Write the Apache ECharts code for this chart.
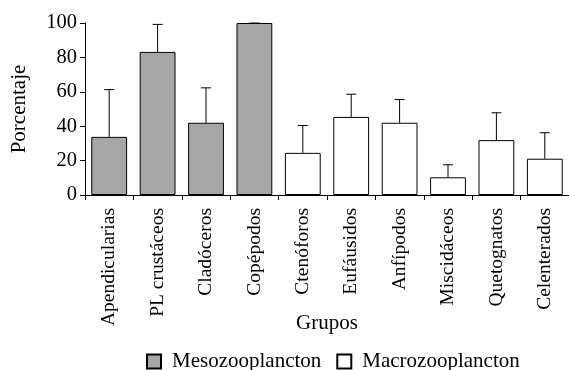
<!DOCTYPE html>
<html>
<head>
<meta charset="utf-8">
<script src="https://cdn.jsdelivr.net/npm/echarts@6/dist/echarts.min.js"></script>
<style>html,body{margin:0;padding:0;background:#fff;}#c{width:569px;height:370px;}</style>
</head>
<body>
<div id="c"></div>
<script>
var categories = ['Apendicularias','PL crustáceos','Cladóceros','Copépodos','Ctenóforos','Eufáusidos','Anfípodos','Miscidáceos','Quetognatos','Celenterados'];
var meso = [33.8, 83.2, 42, 100, null, null, null, null, null, null];
var macro = [null, null, null, null, 24.5, 45.4, 42, 10.3, 31.9, 21.1];
var upper = [61.3, 99.2, 62.3, 100, 40.4, 58.6, 55.5, 17.6, 47.8, 36.2];
var yTicks = [0, 20, 40, 60, 80, 100];

var FONT = '"Liberation Serif", "Times New Roman", serif';
var values = categories.map(function (c, i) { return meso[i] != null ? meso[i] : macro[i]; });
var errData = categories.map(function (c, i) { return [i, values[i], upper[i]]; });

var chart = echarts.init(document.getElementById('c'));
chart.setOption({
  animation: false,
  backgroundColor: '#fff',
  textStyle: { fontFamily: FONT, color: '#000' },
  grid: { left: 85, top: 23, right: -8, bottom: 175, containLabel: false },
  legend: {
    data: ['Mesozooplancton', 'Macrozooplancton'],
    left: 146, top: 351, padding: 0,
    itemWidth: 14, itemHeight: 14, itemGap: 15,
    icon: 'rect',
    textStyle: { fontFamily: FONT, fontSize: 21, color: '#000', padding: [0, 0, 0, 6] }
  },
  xAxis: {
    type: 'category',
    data: categories,
    name: 'Grupos', nameLocation: 'middle', nameGap: 118, nameMoveOverlap: false,
    nameTextStyle: { fontFamily: FONT, fontSize: 21, color: '#000', verticalAlign: 'top' },
    axisLine: { lineStyle: { color: '#000', width: 1 } },
    axisTick: { show: true, length: 5, lineStyle: { color: '#000' } },
    axisLabel: { rotate: 90, margin: 13, fontFamily: FONT, fontSize: 19.5, color: '#000', interval: 0 }
  },
  yAxis: {
    type: 'value', min: 0, max: 100, interval: 20,
    name: 'Porcentaje', nameLocation: 'middle', nameGap: 55, nameRotate: 90,
    nameTextStyle: { fontFamily: FONT, fontSize: 21, color: '#000' },
    axisLine: { show: true, lineStyle: { color: '#000', width: 1 } },
    axisTick: { show: true, length: 5, lineStyle: { color: '#000' } },
    splitLine: { show: false },
    axisLabel: {
      margin: 8, fontFamily: FONT, fontSize: 20.5, color: '#000',
      formatter: function (v) { return yTicks.indexOf(v) >= 0 ? String(v) : ''; }
    }
  },
  series: [
    {
      name: 'Mesozooplancton', type: 'bar', data: meso, barWidth: '74%', barGap: '-100%',
      itemStyle: { color: '#a6a6a6', borderColor: '#000', borderWidth: 1 }
    },
    {
      name: 'Macrozooplancton', type: 'bar', data: macro, barWidth: '74%', barGap: '-100%',
      itemStyle: { color: '#ffffff', borderColor: '#000', borderWidth: 1 }
    },
    {
      name: 'err', type: 'custom', data: errData, z: 10,
      renderItem: function (params, api) {
        var x = api.value(0);
        var base = api.coord([x, api.value(1)]);
        var top = api.coord([x, api.value(2)]);
        var hw = 5;
        var st = { stroke: '#000', lineWidth: 1 };
        return {
          type: 'group',
          children: [
            { type: 'line', shape: { x1: base[0], y1: base[1], x2: top[0], y2: top[1] }, style: st },
            { type: 'line', shape: { x1: top[0] - hw, y1: top[1], x2: top[0] + hw, y2: top[1] }, style: st }
          ]
        };
      }
    }
  ]
});
</script>
</body>
</html>
